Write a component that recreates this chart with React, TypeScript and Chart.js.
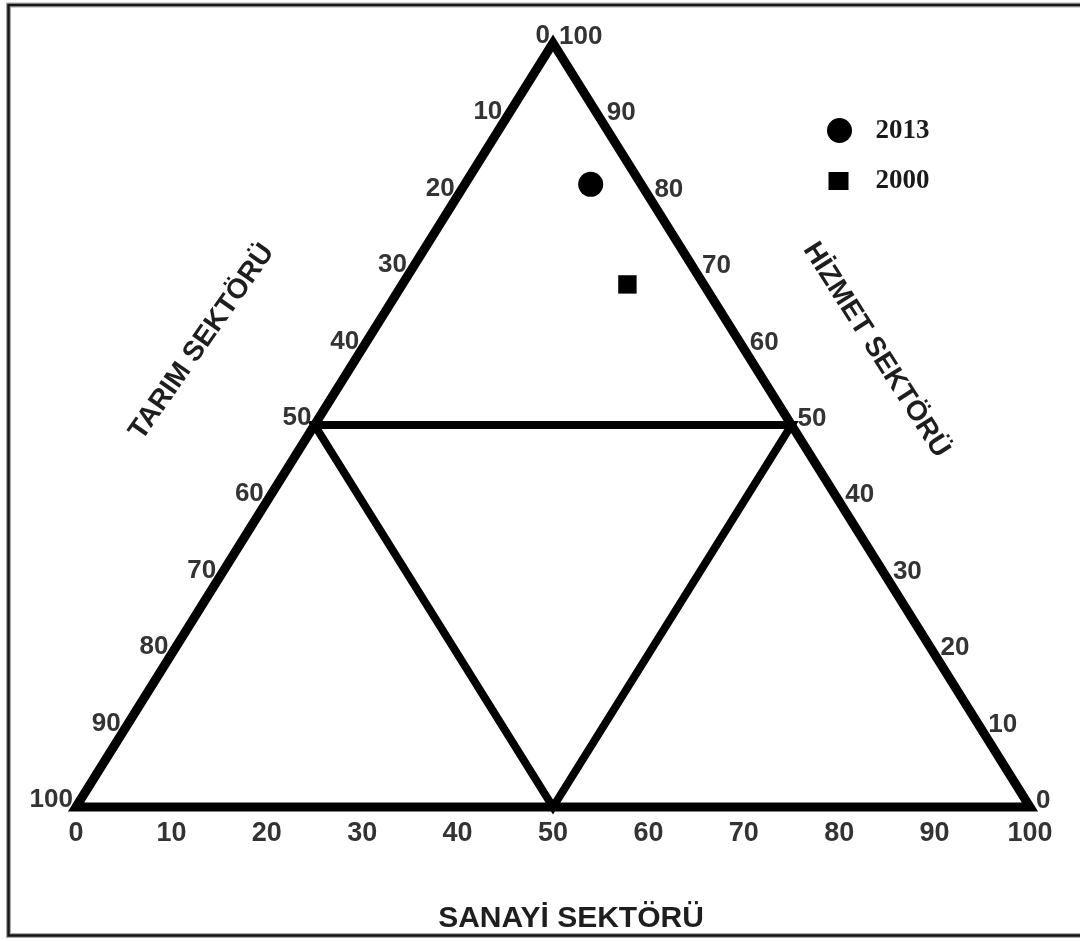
import React, { useEffect, useRef } from "react";
import { Chart, registerables } from "chart.js";

Chart.register(...registerables);

// ---- data ----
// axis titles: [left side, bottom, right side]
const AXIS_TITLES = ["TARIM SEKTÖRÜ", "SANAYİ SEKTÖRÜ", "HİZMET SEKTÖRÜ"];
const YEARS = ["2013", "2000"];
const TARIM = [5.3, 8.0];
const SANAYI = [13.2, 23.6];
const HIZMET = [81.5, 68.4];
const POINT_STYLES = ["circle", "rect"];
const TICKS = [0, 10, 20, 30, 40, 50, 60, 70, 80, 90, 100];

// triangle outlines as compositions [tarım, sanayi, hizmet]
const OUTER = [[100, 0, 0], [0, 0, 100], [0, 100, 0], [100, 0, 0], [0, 0, 100]];
const INNER = [[50, 0, 50], [0, 50, 50], [50, 50, 0], [50, 0, 50], [0, 50, 50]];

// ternary composition -> cartesian data coordinates
function toXY(c: number[]) {
  const [, s, h] = c;
  return { x: s + h / 2, y: h };
}

const SANS = '"Liberation Sans", Arial, sans-serif';
const SERIF = '"Liberation Serif", "Times New Roman", serif';

const decor = {
  id: "ternaryDecor",
  beforeDraw(chart: any) {
    const ctx = chart.ctx;
    ctx.save();
    ctx.fillStyle = "#ffffff";
    ctx.fillRect(0, 0, chart.width, chart.height);
    // frame (open on the right, as in the picture)
    ctx.lineJoin = "miter";
    ctx.strokeStyle = "#a8a8a8";
    ctx.lineWidth = 5;
    ctx.beginPath();
    ctx.moveTo(chart.width + 5, 5);
    ctx.lineTo(8.5, 5);
    ctx.lineTo(8.5, 935.5);
    ctx.lineTo(chart.width + 5, 935.5);
    ctx.stroke();
    ctx.strokeStyle = "#161616";
    ctx.lineWidth = 2.5;
    ctx.stroke();
    ctx.restore();
  },
  afterDraw(chart: any) {
    const ctx = chart.ctx;
    const xs = chart.scales.x;
    const ys = chart.scales.y;
    const px = (c: number[]) => {
      const p = toXY(c);
      return [xs.getPixelForValue(p.x), ys.getPixelForValue(p.y)];
    };
    ctx.save();
    ctx.fillStyle = "#333333";
    ctx.font = `bold 26px ${SANS}`;
    // left side: tarım
    ctx.textAlign = "right";
    ctx.textBaseline = "alphabetic";
    TICKS.forEach((v) => {
      const [x, y] = px([v, 0, 100 - v]);
      ctx.fillText(String(v), x - 3, y);
    });
    // right side: hizmet
    ctx.textAlign = "left";
    TICKS.forEach((v) => {
      const [x, y] = px([0, 100 - v, v]);
      ctx.fillText(String(v), x + 6, y + 1);
    });
    // bottom: sanayi
    ctx.textAlign = "center";
    ctx.font = `bold 27px ${SANS}`;
    TICKS.forEach((v) => {
      const [x, y] = px([100 - v, v, 0]);
      ctx.fillText(String(v), x, y + 34);
    });

    // axis titles
    ctx.fillStyle = "#1e1e1e";
    ctx.font = `bold 28px ${SANS}`;
    ctx.textAlign = "center";
    ctx.textBaseline = "middle";
    const [lx, ly] = px([50, 0, 50]);
    ctx.save();
    ctx.translate(lx - 112.5, ly - 83);
    ctx.rotate((-55 * Math.PI) / 180);
    ctx.fillText(AXIS_TITLES[0], 0, 0);
    ctx.restore();
    const [rx, ry] = px([0, 50, 50]);
    ctx.save();
    ctx.translate(rx + 84.5, ry - 75);
    ctx.rotate((57.5 * Math.PI) / 180);
    ctx.fillText(AXIS_TITLES[2], 0, 0);
    ctx.restore();
    const [bx, by] = px([50, 50, 0]);
    ctx.font = `bold 30px ${SANS}`;
    ctx.fillText(AXIS_TITLES[1], bx + 18, by + 112);

    // legend
    const area = chart.chartArea;
    const lgX = area.right - 190.5;
    let lgY = area.top + 87.5;
    ctx.font = `bold 27px ${SERIF}`;
    ctx.textAlign = "left";
    ctx.textBaseline = "alphabetic";
    chart.data.datasets
      .filter((d: any) => YEARS.includes(d.label))
      .forEach((d: any) => {
        ctx.fillStyle = "#000";
        if (d.pointStyle === "circle") {
          ctx.beginPath();
          ctx.arc(lgX, lgY, 12.5, 0, Math.PI * 2);
          ctx.fill();
        } else {
          ctx.fillRect(lgX - 11, lgY - 9, 20, 18);
        }
        ctx.fillStyle = "#1a1a1a";
        ctx.fillText(d.label, lgX + 36, lgY + 7);
        lgY += 50.5;
      });
    ctx.restore();
  },
};

export default function App() {
  const ref = useRef<HTMLCanvasElement>(null);
  useEffect(() => {
    const canvas = ref.current as HTMLCanvasElement;
    const lineDs = (label: string, pts: number[][], w: number) => ({
      label,
      data: pts.map(toXY),
      showLine: true,
      borderColor: "#000",
      backgroundColor: "#000",
      borderWidth: w,
      pointRadius: 0,
      pointHoverRadius: 0,
      borderJoinStyle: "miter",
      borderCapStyle: "butt",
      tension: 0,
      fill: false,
      clip: false,
    });
    const datasets: any[] = [
      lineDs("outer", OUTER, 9),
      lineDs("inner", INNER, 8),
      ...YEARS.map((yr, i) => ({
        label: yr,
        data: [toXY([TARIM[i], SANAYI[i], HIZMET[i]])],
        pointStyle: POINT_STYLES[i],
        pointRadius: POINT_STYLES[i] === "rect" ? 13 : 12.5,
        backgroundColor: "#000",
        borderColor: "#000",
        borderWidth: 0,
        showLine: false,
        clip: false,
      })),
    ];
    const chart = new Chart(canvas, {
      type: "scatter",
      data: { datasets },
      options: {
        responsive: false,
        animation: false,
        events: [],
        layout: { padding: { left: 76, right: 50, top: 43, bottom: 134 } },
        scales: {
          x: { type: "linear", min: 0, max: 100, display: false },
          y: { type: "linear", min: 0, max: 100, display: false },
        },
        plugins: {
          legend: { display: false },
          tooltip: { enabled: false },
          title: { display: false },
        },
      },
      plugins: [decor],
    } as any);
    return () => chart.destroy();
  }, []);
  return (
    <div style={{ position: "absolute", left: 0, top: 0, width: 1080, height: 941, background: "#fff" }}>
      <canvas ref={ref} width={1080} height={941} style={{ display: "block", width: 1080, height: 941 }} />
    </div>
  );
}
